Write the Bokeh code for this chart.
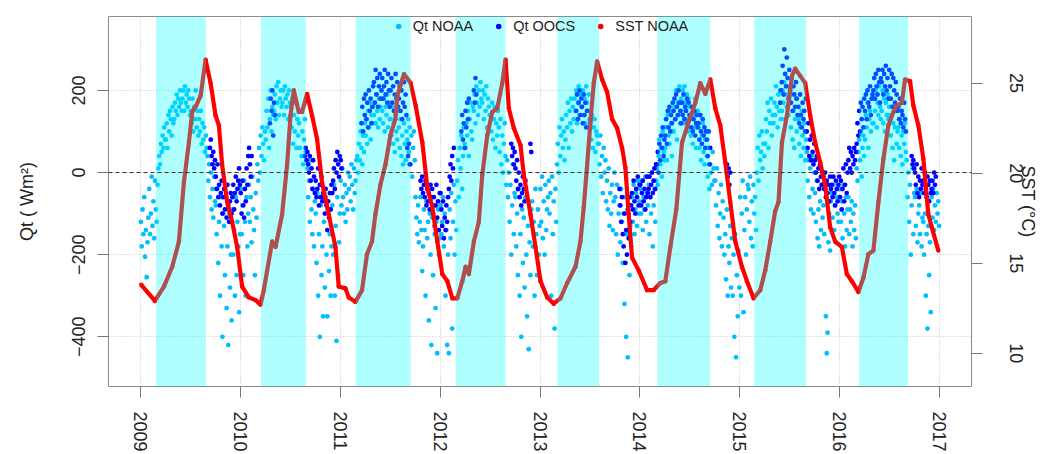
import math
import numpy as np
from bokeh.plotting import figure
from bokeh.models import (Range1d, LinearAxis, FixedTicker, Span,
                          Legend, LegendItem)
from bokeh.embed import file_html
from bokeh.resources import INLINE

N = None

# ---------------- data ----------------
years = [2009, 2010, 2011, 2012, 2013, 2014, 2015, 2016]
x_ticks = [2009, 2010, 2011, 2012, 2013, 2014, 2015, 2016, 2017]
qt_ticks = [-400, -200, 0, 200]
sst_ticks = [10, 15, 20, 25]

# Qt NOAA (W m^2), 10 readings per month, Jan..Dec
qt_noaa_2009 = [
    -120, -180, -90, -150, -60, -205, -140, -255, -170, -110,
    -40, -150, -100, -10, -130, -70, -160, -20, -90, -120,
    -30, 10, 40, 20, 70, 50, 90, 60, 110, 80,
    80, 120, 60, 140, 100, 150, 130, 90, 160, 120,
    130, 170, 150, 190, 140, 180, 160, 200, 170, 150,
    180, 200, 150, 210, 170, 190, 160, 200, 180, 140,
    150, 120, 180, 100, 160, 130, 200, 110, 150, 90,
    130, 100, 150, 70, 120, 80, 110, 50, 90, 60,
    40, -20, 20, -60, 0, -90, -40, -110, -10, -70,
    -80, -150, -40, -220, -120, -300, -60, -180, -400, -100,
    -130, -250, -60, -330, -180, -420, -100, -280, -200, -360,
    -90, -200, -140, -300, -60, -250, -120, -180, -340, -150]
qt_noaa_2010 = [
    -40, -150, -80, -250, -20, -120, -300, -60, -180, -100,
    -30, -120, -60, -170, -10, -90, -140, -250, -50, -110,
    20, -20, 60, 0, 90, 40, 110, 70, 30, 100,
    80, 150, 110, 180, 60, 130, 200, 100, 160, 140,
    150, 190, 130, 210, 170, 220, 140, 180, 200, 160,
    170, 200, 140, 210, 180, 160, 190, 130, 200, 170,
    160, 110, 180, 70, 140, 100, 170, 60, 130, 90,
    120, 60, 150, 40, 100, 20, 80, 130, 50, 30,
    10, -60, -20, -120, 30, -90, -150, -40, -180, -70,
    -100, -220, -50, -300, -150, -400, -80, -250, -180, -350,
    -120, -280, -60, -200, -350, -90, -240, -150, -300, -180,
    -80, -200, -30, -300, -130, -410, -60, -250, -170, -100]
qt_noaa_2011 = [
    -20, -80, 10, -60, -100, -30, -120, -50, -90, 0,
    -40, -10, -70, 20, -30, -90, 10, -50, -20, 30,
    40, 0, 70, 30, 100, 60, 20, 90, 50, 120,
    90, 130, 70, 150, 110, 170, 80, 140, 120, 160,
    140, 170, 120, 190, 150, 110, 180, 130, 160, 200,
    150, 120, 180, 100, 160, 140, 190, 110, 170, 130,
    130, 90, 160, 70, 120, 50, 140, 100, 80, 150,
    110, 60, 130, 40, 90, 20, 120, 70, 30, 100,
    80, 130, 50, 110, 20, 90, -10, 60, 100, 30,
    -60, -110, -150, -80, -170, -120, -60, -140, -240, -180,
    -90, -140, -300, -70, -160, -120, -360, -100, -200, -420,
    -110, -250, -80, -150, -330, -120, -440, -90, -200, -160]
qt_noaa_2012 = [
    -80, -150, -120, -60, -180, -100, -300, -140, -420, -200,
    -440, -90, -160, -50, -380, -120, -30, -200, -70, -140,
    -20, 30, -60, 60, 10, 90, -40, 40, 110, 70,
    60, 120, 90, 150, 40, 130, 170, 100, 80, 160,
    150, 190, 120, 210, 170, 140, 200, 160, 220, 180,
    170, 200, 130, 190, 150, 210, 110, 180, 160, 140,
    140, 100, 170, 80, 130, 160, 60, 120, 90, 150,
    110, 50, 130, 20, 90, 0, 70, 120, 40, -30,
    30, -60, 0, -120, -30, -200, -80, 20, -150, -50,
    -60, -180, -100, -250, -40, -300, -150, -400, -90, -220,
    -110, -280, -60, -200, -350, -130, -430, -170, -250, -90,
    -70, -180, -120, -300, -40, -150, -250, -90, -200, -130]
qt_noaa_2013 = [
    -40, -120, -10, -160, -70, -200, -30, -140, -90, -60,
    -20, -100, -50, -300, -10, -150, -70, -380, -40, -120,
    20, 70, 0, 110, 40, 90, 130, 60, 100, 30,
    80, 140, 110, 170, 60, 150, 120, 180, 100, 160,
    130, 180, 150, 200, 120, 170, 210, 140, 190, 160,
    160, 200, 140, 180, 120, 210, 170, 150, 190, 130,
    120, 80, 140, 60, 110, 130, 50, 100, 90, 70,
    70, 20, 90, -10, 40, -50, 60, 0, 30, -70,
    -20, -90, 10, -130, -50, -100, -30, -140, -70, 0,
    -60, -150, -30, -200, -100, -80, -170, -40, -120, -220,
    -100, -320, -60, -400, -150, -450, -80, -250, -130, -180,
    -60, -120, -30, -150, -90, -50, -130, -20, -100, -70]
qt_noaa_2014 = [
    -40, -100, -20, -140, -60, -90, -10, -120, -50, -80,
    -30, -150, -60, -100, 0, -180, -80, -40, -120, -20,
    10, -30, 40, 80, 20, 60, -10, 100, 50, 30,
    60, 110, 30, 140, 90, 70, 150, 120, 40, 100,
    100, 160, 130, 200, 80, 170, 140, 210, 120, 180,
    150, 200, 120, 210, 170, 130, 190, 100, 180, 160,
    130, 90, 160, 70, 140, 110, 180, 60, 120, 150,
    110, 60, 140, 30, 90, 120, 50, 20, 80, 100,
    40, -10, 60, -40, 20, 0, -30, 50, 10, -20,
    -20, -80, 10, -130, -50, -160, -100, -30, -180, -70,
    -110, -200, -150, -260, -90, -300, -180, -220, -130, -280,
    -160, -300, -200, -400, -150, -450, -250, -350, -190, -280]
qt_noaa_2015 = [
    -60, -300, -100, -20, -340, -140, -60, -200, -90, -30,
    -40, -120, -10, -160, -70, -180, -30, -100, -60, -140,
    0, 60, -20, 90, 30, 50, 100, 10, 70, 40,
    70, 130, 100, 170, 60, 150, 120, 180, 90, 140,
    120, 170, 140, 210, 160, 110, 190, 150, 200, 130,
    150, 200, 170, 220, 130, 190, 160, 210, 140, 180,
    170, 110, 190, 80, 150, 60, 130, 180, 100, 140,
    130, 70, 110, 40, 150, 90, 60, 120, 30, 80,
    50, -20, 30, -60, 10, -90, 40, -40, -100, 0,
    -50, -120, -20, -160, -90, -180, -70, -140, -30, -110,
    -80, -150, -40, -350, -440, -390, -170, -100, -190, -70,
    -50, -110, -30, -140, -80, -170, -60, -100, -120, -40]
qt_noaa_2016 = [
    -40, -120, -70, -160, -30, -100, -180, -60, -140, -90,
    -60, -150, -90, -120, -70, -180, -100, -140, -80, -160,
    10, -20, 50, 80, 30, 100, -10, 60, 90, 40,
    80, 140, 110, 170, 60, 130, 150, 100, 180, 120,
    120, 180, 150, 200, 110, 170, 140, 210, 160, 130,
    150, 200, 120, 180, 100, 170, 140, 190, 130, 160,
    140, 90, 160, 60, 120, 30, 110, 150, 70, 100,
    110, 60, 130, 40, 90, 20, 100, 70, 120, 50,
    30, -60, 0, -120, -30, -200, -80, 10, -150, -50,
    -60, -130, -40, -170, -100, -80, -150, -50, -180, -110,
    -120, -200, -100, -300, -150, -380, -130, -250, -170, -340,
    -60, -110, -40, -140, -80, -120, -50, -100, -70, -130]

# Qt OOCS (W m^2), same monthly grid, None = no data
qt_oocs_2009 = [N] * 80 + [
    N, N, N, 60, 80, 40, 20, 50, 10, 30,
    -10, -40, 20, -60, -30, -80, -50, -20, -100, -60,
    -40, -90, -60, -110, -30, -80, -120, -70, -50, -100,
    -60, -30, -90, -50, -10, -70, -40, -20, 10, -30]
qt_oocs_2010 = [
    -50, -100, -20, -80, -110, -40, -70, 10, -30, 40,
    60, 20, -10, 40, N, N, N, N, N, N,
    N, N, N, N, N, N, N, N, N, N,
    N, N, N, N, N, 120, 180, 150, 200, 90,
    170, 140, N, N, N, N, N, N, N, N,
    N, N, N, N, N, N, N, N, N, N,
    N, N, N, N, N, N, N, N, N, N,
    N, N, N, N, N, N, N, 40, 60, 30,
    50, 20, 0, 40, -20, 10, -40, 30, -10, -50,
    -20, -60, -40, 10, -80, -30, -60, -10, -70, -50,
    -60, -100, -40, -80, -140, -70, -110, -50, -90, -30,
    -50, -20, 10, -40, 30, 0, 50, 20, -10, 40]
qt_oocs_2011 = [
    30, 10, N, N, N, N, N, N, N, N,
    N, N, N, N, N, N, N, N, N, N,
    N, N, N, N, N, 120, 160, 100, 180, 140,
    190, 130, 170, 110, 200, 150, 180, 120, 160, 210,
    220, 170, 250, 190, 230, 160, 210, 240, 180, 200,
    230, 180, 210, 250, 190, 220, 170, 240, 200, 160,
    200, 230, 170, 210, 150, 190, 240, 180, 220, 160,
    180, 210, 150, 200, 130, 170, 220, 160, 190, 140,
    60, 40, 70, 20, N, N, N, N, N, N,
    N, N, N, N, N, N, -20, -40, -10, -50,
    -30, -60, -20, -80, -40, -70, -50, -90, -30, -60,
    -40, -100, -60, -130, -80, -30, -110, -70, -140, -50]
qt_oocs_2012 = [
    -50, -90, -130, -70, -160, -110, -140, -80, -120, -60,
    -40, -10, 20, -20, 40, 10, 60, N, N, N,
    N, N, N, N, N, 100, 140, 80, 120, 60,
    150, 110, 170, 130, 180, N, N, N, N, N,
    200, 170, 230, 190, N, N, N, N, N, N,
    N, N, N, N, N, N, N, N, N, N,
    N, N, N, N, N, N, N, N, N, N,
    N, N, N, N, N, N, N, N, N, N,
    N, N, N, N, N, 70, 40, 60, 20, 50,
    10, -20, 30, -40, 0, -60, -30, -80, -50, -10,
    -40, -70, -20, N, N, N, N, N, 70, 50,
    N, N, N, N, N, N, N, N, N, N]
qt_oocs_2013 = [N] * 40 + [
    N, N, N, 150, 190, 130, 170, 200, 140, 180,
    160, 120, 190, 140, 170, 110, 150, N, N, N,
    N, N, N, N, N, N, N, N, N, N,
    N, N, N, N, N, N, N, N, N, N,
    N, N, N, N, N, N, N, N, N, N,
    N, N, N, N, N, -40, -80, -120, -60, -150,
    -180, -100, -220, -140, -200, -90, -160, -60, -120, -80,
    -50, -90, -20, -70, -100, -40, -60, -10, -80, -30]
qt_oocs_2014 = [
    -30, -80, -50, -20, -70, -40, -90, -60, -10, -50,
    -40, -10, -60, -30, 0, -50, -20, 10, -40, 20,
    20, 50, 0, 70, 30, 90, 60, 110, 40, 80,
    90, 130, 70, 150, 110, 160, 100, 140, 120, 170,
    150, 180, 130, 190, 160, 140, 200, 170, 150, 120,
    170, 140, 190, 130, 160, 150, 180, 120, 170, 140,
    140, 110, 160, 100, 130, 150, 90, 120, 140, 110,
    120, 80, 140, 100, 70, 130, 90, 110, 60, 100,
    80, 40, 100, 20, 60, N, N, N, N, N,
    N, N, N, N, N, N, N, N, N, N,
    N, N, N, N, 20, -10, 10, -30, 0, N,
    N, N, N, N, N, N, N, N, N, N]
qt_oocs_2015 = [N] * 40 + [
    N, N, N, N, N, N, N, N, 170, 200,
    220, 260, 190, 300, 240, 210, 280, 230, 180, 250,
    200, 170, 230, 150, 210, 190, 160, 220, 180, 140,
    160, 120, 190, 140, 110, 170, 130, 150, 100, 180,
    100, 60, 120, 40, 80, 30, 90, 50, 20, 70,
    30, 0, 40, -20, 10, -40, 20, -10, -30, 0,
    -10, -40, 0, -60, -20, -50, -30, -70, -10, -40,
    -30, -60, -10, -50, -80, -20, -40, -70, -30, -10]
qt_oocs_2016 = [
    -60, -20, -90, -40, 10, -70, -30, 20, -50, 0,
    30, 60, 10, 50, 0, 40, 20, 60, 30, 50,
    70, 120, 90, 150, 100, 170, 130, 160, 110, 180,
    150, 190, 130, 200, 170, 160, 210, 140, 180, 190,
    200, 230, 180, 240, 210, 190, 250, 220, 170, 230,
    220, 250, 190, 240, 210, 260, 200, 230, 180, 250,
    210, 180, 240, 160, 230, 200, 170, 220, 190, 150,
    160, 130, 180, 120, 150, 140, 110, 170, 130, 100,
    N, N, N, N, N, N, 40, 20, 30, 10,
    0, -30, 20, -50, -10, -60, -20, -40, 10, -30,
    -20, -50, 0, -40, -60, -10, -30, -70, -20, -50,
    -40, -20, -50, 0, -30, -10, N, N, N, N]

# SST NOAA (deg C): decimal year, value
sst_year = [
    2009.008, 2009.145, 2009.235, 2009.318, 2009.385, 2009.435, 2009.485, 2009.518,
    2009.558, 2009.602, 2009.652, 2009.702, 2009.752, 2009.785, 2009.818, 2009.868,
    2009.918, 2009.968, 2010.018, 2010.085, 2010.152, 2010.202, 2010.235, 2010.318,
    2010.352, 2010.418, 2010.468, 2010.502, 2010.535, 2010.585, 2010.618, 2010.668,
    2010.718, 2010.768, 2010.818, 2010.885, 2010.952, 2010.985, 2011.052, 2011.085,
    2011.152, 2011.218, 2011.268, 2011.318, 2011.352, 2011.402, 2011.452, 2011.502,
    2011.552, 2011.572, 2011.638, 2011.705, 2011.755, 2011.822, 2011.872, 2011.922,
    2011.972, 2012.022, 2012.072, 2012.122, 2012.172, 2012.222, 2012.255, 2012.288,
    2012.338, 2012.388, 2012.422, 2012.472, 2012.522, 2012.572, 2012.622, 2012.655,
    2012.688, 2012.738, 2012.805, 2012.838, 2012.905, 2012.955, 2013.005, 2013.072,
    2013.138, 2013.205, 2013.272, 2013.355, 2013.405, 2013.438, 2013.472, 2013.505,
    2013.538, 2013.572, 2013.622, 2013.672, 2013.722, 2013.772, 2013.822, 2013.855,
    2013.888, 2013.922, 2013.988, 2014.072, 2014.138, 2014.205, 2014.255, 2014.305,
    2014.365, 2014.422, 2014.488, 2014.555, 2014.605, 2014.655, 2014.705, 2014.755,
    2014.805, 2014.855, 2014.905, 2014.955, 2015.022, 2015.072, 2015.138, 2015.205,
    2015.255, 2015.305, 2015.355, 2015.388, 2015.422, 2015.472, 2015.522, 2015.555,
    2015.605, 2015.655, 2015.705, 2015.755, 2015.805, 2015.855, 2015.905, 2015.955,
    2016.022, 2016.072, 2016.122, 2016.188, 2016.238, 2016.288, 2016.338, 2016.388,
    2016.438, 2016.488, 2016.538, 2016.572, 2016.622, 2016.655, 2016.705, 2016.738,
    2016.788, 2016.838, 2016.888, 2016.922, 2016.988]
sst_value = [
    13.8, 12.9, 13.7, 14.8, 16.2, 19.5, 21.7, 23.4,
    23.75, 24.3, 26.3, 25.0, 23.2, 22.65, 20.45, 18.4,
    17.3, 15.9, 13.7, 13.1, 12.95, 12.7, 13.5, 16.2,
    15.9, 17.7, 20.45, 23.2, 24.6, 23.4, 23.4, 24.4,
    23.2, 21.9, 19.5, 17.7, 15.9, 13.7, 13.6, 13.1,
    12.85, 13.5, 15.5, 16.2, 17.7, 19.35, 20.45, 22.1,
    23.0, 24.3, 25.5, 25.0, 23.75, 21.7, 19.2, 18.1,
    16.2, 14.4, 14.0, 13.05, 13.05, 14.0, 14.8, 14.4,
    16.2, 17.3, 19.9, 22.1, 23.4, 23.6, 25.0, 26.3,
    23.6, 22.5, 21.55, 19.9, 17.7, 15.9, 14.0, 13.1,
    12.75, 13.05, 13.9, 14.8, 16.2, 18.1, 20.45, 22.85,
    25.0, 26.2, 25.2, 24.5, 23.0, 22.5, 21.4, 20.3,
    17.7, 15.3, 14.6, 13.5, 13.5, 13.9, 14.0, 15.9,
    18.0, 21.7, 22.85, 23.9, 25.0, 24.4, 25.2, 23.6,
    22.65, 20.6, 18.4, 16.2, 14.8, 14.0, 13.05, 13.5,
    14.6, 16.2, 17.9, 18.4, 21.7, 23.2, 25.4, 25.8,
    25.4, 25.0, 23.2, 21.7, 20.6, 19.35, 17.0, 16.2,
    15.9, 14.4, 14.0, 13.4, 14.2, 15.5, 15.7, 18.4,
    20.8, 22.65, 23.4, 23.75, 23.9, 25.2, 25.1, 23.75,
    22.65, 20.8, 17.7, 17.0, 15.7]

# Seasons shaded in cyan (decimal years)
band_start = [2009.155, 2010.207, 2011.155, 2012.155, 2013.175, 2014.175, 2015.145, 2016.195]
band_end = [2009.655, 2010.655, 2011.705, 2012.655, 2013.595, 2014.705, 2015.665, 2016.685]

qt_noaa_by_year = [qt_noaa_2009, qt_noaa_2010, qt_noaa_2011, qt_noaa_2012,
                   qt_noaa_2013, qt_noaa_2014, qt_noaa_2015, qt_noaa_2016]
qt_oocs_by_year = [qt_oocs_2009, qt_oocs_2010, qt_oocs_2011, qt_oocs_2012,
                   qt_oocs_2013, qt_oocs_2014, qt_oocs_2015, qt_oocs_2016]


def month_grid(year):
    return [year + (m + (k + 0.5) / 10.0) / 12.0 for m in range(12) for k in range(10)]


def collect(series):
    xs, ys = [], []
    for yr, vals in zip(years, series):
        for xv, v in zip(month_grid(yr), vals):
            if v is not None:
                xs.append(xv)
                ys.append(v)
    return xs, ys


noaa_x, noaa_y = collect(qt_noaa_by_year)
oocs_x, oocs_y = collect(qt_oocs_by_year)

# ---------------- figure ----------------
FONT = "Liberation Sans"
TXT = "#222222"
QT_LO, QT_HI = -521, 380
SST_LO, SST_HI = 8.15, 28.7

p = figure(width=1040, height=454, output_backend="svg", toolbar_location=None,
           x_range=Range1d(2008.68, 2017.32), y_range=Range1d(QT_LO, QT_HI),
           min_border_left=108, min_border_right=0, min_border_top=16, min_border_bottom=64,
           background_fill_color="white", border_fill_color="white")
p.extra_y_ranges = {"sst": Range1d(SST_LO, SST_HI)}
p.outline_line_color = "#8a8a8a"
p.outline_line_width = 1

p.xaxis.ticker = FixedTicker(ticks=x_ticks)
p.yaxis.ticker = FixedTicker(ticks=qt_ticks)
p.yaxis.axis_label = "Qt ( Wm\u00b2)"

right_axis = LinearAxis(y_range_name="sst", ticker=FixedTicker(ticks=sst_ticks),
                        axis_label="SST (\u00b0C)")
p.add_layout(right_axis, "right")

for ax in [p.xaxis[0], p.yaxis[0], right_axis]:
    ax.axis_line_color = None
    ax.major_tick_line_color = "#777777"
    ax.major_tick_in = 0
    ax.major_tick_out = 11
    ax.minor_tick_line_color = None
    ax.major_label_text_font = FONT
    ax.major_label_text_font_size = "18px"
    ax.major_label_text_color = TXT
    ax.axis_label_text_font = FONT
    ax.axis_label_text_font_size = "18px"
    ax.axis_label_text_font_style = "normal"
    ax.axis_label_text_color = TXT
    ax.major_label_orientation = "vertical"
    ax.major_label_standoff = 12

p.xaxis[0].major_label_standoff = 14
p.yaxis[0].axis_label_standoff = 33
right_axis.major_label_standoff = 27
right_axis.axis_label_standoff = -8

p.xgrid.ticker = FixedTicker(ticks=x_ticks)
p.ygrid.ticker = FixedTicker(ticks=qt_ticks)
for g in [p.xgrid[0], p.ygrid[0]]:
    g.grid_line_color = "#c4c4c4"
    g.grid_line_dash = "1 2"
    g.grid_line_width = 1

noaa_r = p.scatter(noaa_x, noaa_y, size=4.8, fill_color="#00bfff", line_color=None)
oocs_r = p.scatter(oocs_x, oocs_y, size=4.8, fill_color="#0000ff", line_color=None)
p.line(sst_year, sst_value, y_range_name="sst", line_color="#ff0000", line_width=4.2,
       line_join="round")
sst_r = p.scatter(sst_year, sst_value, y_range_name="sst", size=4.4, fill_color="#ff0000",
                  line_color=None)

# cyan seasonal bands drawn semi-transparent over the data
p.quad(left=band_start, right=band_end, bottom=QT_LO, top=QT_HI,
       fill_color="#00ffff", fill_alpha=0.31, line_color=None)

p.add_layout(Span(location=0, dimension="width", line_color="#333333",
                  line_dash="4 3", line_width=1))

legend = Legend(items=[LegendItem(label="Qt NOAA", renderers=[noaa_r]),
                       LegendItem(label="Qt OOCS", renderers=[oocs_r]),
                       LegendItem(label="SST NOAA", renderers=[sst_r])],
                location="top_center", orientation="horizontal",
                background_fill_alpha=0, border_line_color=None,
                label_text_font=FONT, label_text_font_size="14.5px", label_text_color=TXT,
                glyph_width=14, glyph_height=20, label_height=20, label_standoff=8,
                spacing=18, padding=9, margin=0)
p.add_layout(legend)

open("out.html", "w").write(file_html(p, INLINE))
